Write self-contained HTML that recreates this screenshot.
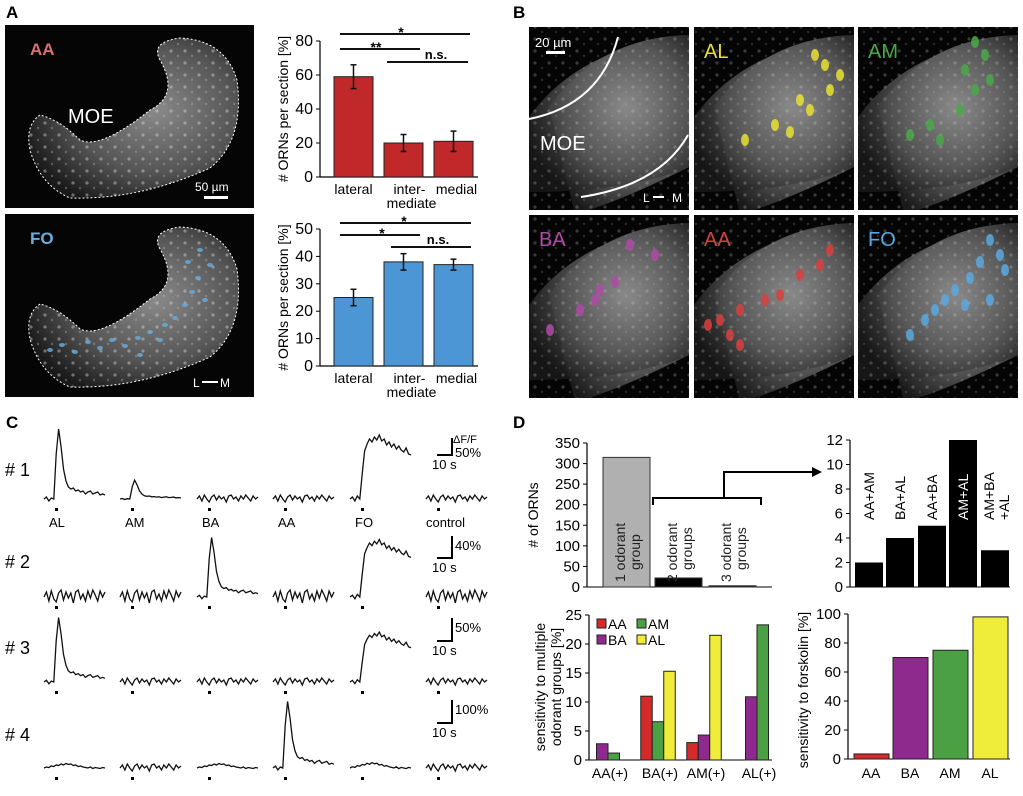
<!DOCTYPE html>
<html><head><meta charset="utf-8"><style>
body{margin:0;background:#fff;width:1023px;height:791px;overflow:hidden}
svg{font-family:"Liberation Sans",Arial,sans-serif}
</style></head><body>
<svg id="fig" width="1023" height="791" viewBox="0 0 1023 791" xmlns="http://www.w3.org/2000/svg">
<defs>
<radialGradient id="tis" cx="0.6" cy="0.45" r="0.65"><stop offset="0" stop-color="#8a8a8a"/><stop offset="0.6" stop-color="#555"/><stop offset="1" stop-color="#1a1a1a"/></radialGradient>
<pattern id="spk" width="14" height="12" patternUnits="userSpaceOnUse"><rect width="14" height="12" fill="none"/><circle cx="3" cy="3" r="1.6" fill="#ddd" opacity="0.7"/><circle cx="10" cy="8" r="1.2" fill="#bbb" opacity="0.6"/></pattern>
</defs>
<g id="panelA">
<text x="6" y="18" font-size="17" font-weight="bold">A</text>
<rect x="5" y="25" width="249" height="183" fill="#050505"/>
<path d="M40,115 Q25,125 30,150 Q40,185 70,198 Q140,200 210,168 Q245,140 237,80 Q225,40 180,38 Q150,42 160,60 Q180,95 150,110 Q100,150 80,140 Q60,120 40,115Z" fill="url(#tis)" stroke="#fff" stroke-dasharray="2,2"/>
<path d="M40,115 Q25,125 30,150 Q40,185 70,198 Q140,200 210,168 Q245,140 237,80 Q225,40 180,38 Q150,42 160,60 Q180,95 150,110 Q100,150 80,140 Q60,120 40,115Z" fill="url(#spk)" opacity="0.6"/>
<text x="30" y="55" font-size="17" fill="#d87070" font-weight="bold">AA</text>
<text x="68" y="123" font-size="20" fill="#fff">MOE</text>
<text x="195" y="191" font-size="12" fill="#fff">50 µm</text>
<rect x="204" y="196" width="24" height="3" fill="#fff"/>
<rect x="5" y="214" width="249" height="183" fill="#050505"/>
<path d="M40,304 Q25,314 30,339 Q40,374 70,387 Q140,389 210,357 Q245,329 237,269 Q225,229 180,227 Q150,231 160,249 Q180,284 150,299 Q100,339 80,329 Q60,309 40,304Z" fill="url(#tis)" stroke="#fff" stroke-dasharray="2,2"/>
<path d="M40,304 Q25,314 30,339 Q40,374 70,387 Q140,389 210,357 Q245,329 237,269 Q225,229 180,227 Q150,231 160,249 Q180,284 150,299 Q100,339 80,329 Q60,309 40,304Z" fill="url(#spk)" opacity="0.6"/>
<g id="foDots" fill="#6aaee0" opacity="0.8"></g>
<text x="30" y="244" font-size="17" fill="#6aaee0" font-weight="bold">FO</text>
<text x="193" y="387" font-size="12" fill="#fff">L</text>
<rect x="202" y="381" width="16" height="2" fill="#fff"/>
<text x="220" y="387" font-size="12" fill="#fff">M</text>
</g>
<g id="chartA"></g>
<g id="panelB">
<text x="513" y="18" font-size="17" font-weight="bold">B</text>
</g>
<g id="panelC">
<text x="6" y="428" font-size="17" font-weight="bold">C</text>
</g>
<g id="panelD">
<text x="513" y="428" font-size="17" font-weight="bold">D</text>
</g>
</svg>
<script>
const NS='http://www.w3.org/2000/svg';
function mk(tag,a,p){const e=document.createElementNS(NS,tag);for(const k in a)e.setAttribute(k,a[k]);p.appendChild(e);return e;}
function txt(s,a,p){const e=mk('text',a,p);e.textContent=s;return e;}

// ---- Panel A bar data ----
const aCats=['lateral','inter-','medial'];
const aaVals=[59,20,21];
const aaErr=[7,5,6];
const foVals=[25,38,37];
const foErr=[3,3,2];
const aaTicks=[0,20,40,60,80];
const foTicks=[0,10,20,30,40,50];

// ---- Panel D data ----
const dGroups=['1 odorant|group','2 odorant|groups','3 odorant|groups'];
const dCounts=[315,22,3];
const dTicks=[0,50,100,150,200,250,300,350];
const pairCats=['AA+AM','BA+AL','AA+BA','AM+AL','AM+BA|+AL'];
const pairVals=[2,4,5,12,3];
const pairTicks=[0,2,4,6,8,10,12];
const multiCats=['AA(+)','BA(+)','AM(+)','AL(+)'];
const multiAA=[null,11,3,null];
const multiBA=[2.8,null,4.3,10.9];
const multiAM=[1.2,6.6,null,23.3];
const multiAL=[null,15.3,21.5,null];
const multiTicks=[0,5,10,15,20,25];
const forsCats=['AA','BA','AM','AL'];
const forsVals=[3.5,70,75,98];
const forsTicks=[0,20,40,60,80,100];

// ---- Panel C trace data ----
const noiseA=[0,3,-2,4,0,-3,2,4,-1,3,0,2,-3,3,4,0,2,-2,3,0,4,1,-2,3,0,2];
const noiseB=[0,5,-4,6,-2,-5,4,7,-3,5,-1,4,-6,5,7,-2,3,-4,6,-1,7,2,-4,6,0,5];
const peakShape=[0,2,-2,1,0,45,70,52,30,18,12,10,11,8,9,7,8,5,7,8,5,6,7,4,5,4];
const plateShape=[0,2,-2,3,0,25,48,55,60,57,62,59,64,58,60,54,57,52,55,50,53,49,47,51,45,44];
const humpShape=[0,2,1,4,3,6,5,8,6,9,7,8,5,6,3,4,2,1,0,2,-1,1,0,-1,1,0];
const rowShapes=[
 ['peak','peakS','noiseA','noiseA','plate','noiseA'],
 ['noiseB','noiseB','peak','noiseB','plate','noiseB'],
 ['peak','noiseA','noiseA','noiseA','plate','noiseA'],
 ['hump','noiseA','hump','peak','hump','noiseA']];
const rowGains=[[1,0.27,1,1,1,1],[1,1,0.85,1,0.9,1],[0.92,1,1,1,0.78,1],[0.5,1,0.5,0.95,0.6,1]];
const stimLabels=['AL','AM','BA','AA','FO','control'];
const rowLabels=['# 1','# 2','# 3','# 4'];
const scaleLabels=['50%','40%','50%','100%'];

function linY(v0,v1,p0,p1){return v=>p0+(v-v0)*(p1-p0)/(v1-v0);}

function axisY(g,x,ticks,y,fs,name){
  const a=mk('line',{x1:x,x2:x,y1:y(ticks[0]),y2:y(ticks[ticks.length-1]),stroke:'#000','stroke-width':1.2},g);
  
  
  ticks.forEach(t=>{mk('line',{x1:x-4,x2:x,y1:y(t),y2:y(t),stroke:'#000'},g);
    const tl=txt(String(t),{x:x-7,y:y(t)+5,'font-size':fs,'text-anchor':'end'},g);
    
    });
}

// ---------- Chart A ----------
(function(){
 const g=document.getElementById('chartA');
 const centers=[353.5,403.5,453.5], bw=39;
 function chart(vals,errs,ticks,y0,yTop,color,title,sig,pre){
  const y=linY(0,ticks[ticks.length-1],y0,yTop);
  axisY(g,320,ticks,y,16,pre+'-y-axis');
  mk('line',{x1:320,x2:478,y1:y0,y2:y0,stroke:'#000','stroke-width':1.2},g);
  vals.forEach((v,i)=>{
   const r=mk('rect',{x:centers[i]-bw/2,y:y(v),width:bw,height:y0-y(v),fill:color,stroke:'#222'},g);
   
   
   mk('line',{x1:centers[i],x2:centers[i],y1:y(v+errs[i]),y2:y(v-errs[i]),stroke:'#111','stroke-width':1.5},g);
   mk('line',{x1:centers[i]-3,x2:centers[i]+3,y1:y(v+errs[i]),y2:y(v+errs[i]),stroke:'#111','stroke-width':1.5},g);
   mk('line',{x1:centers[i]-3,x2:centers[i]+3,y1:y(v-errs[i]),y2:y(v-errs[i]),stroke:'#111','stroke-width':1.5},g);
  });
  const labY=y0+17;
  txt('lateral',{x:centers[0],y:labY,'font-size':14,'text-anchor':'middle'},g);
  txt('inter-',{x:centers[1]+6,y:labY,'font-size':14,'text-anchor':'middle'},g);
  txt('mediate',{x:centers[1]+8,y:labY+14,'font-size':14,'text-anchor':'middle'},g);
  txt('medial',{x:centers[2]+3,y:labY,'font-size':14,'text-anchor':'middle'},g);
  const t=txt(title,{x:0,y:0,'font-size':14,'text-anchor':'middle',transform:'translate(288,'+((y0+yTop)/2)+') rotate(-90)'},g);
  
  
  sig.forEach(s=>{mk('line',{x1:s[0],x2:s[1],y1:s[2],y2:s[2],stroke:'#111','stroke-width':2},g);
   txt(s[3],{x:s[4],y:s[2]-(s[3]=='n.s.'?3:-3),'font-size':s[3]=='n.s.'?13:14,'font-weight':'bold','text-anchor':'middle'},g);});
 }
 chart(aaVals,aaErr,aaTicks,177,41,'#c0282a','# ORNs per section [%]',[[340,470,34,'*',401],[340,420,49,'**',376],[387,468,62,'n.s.',436]],'aa');
 chart(foVals,foErr,foTicks,366,229,'#4d96d6','# ORNs per section [%]',[[340,471,223,'*',404],[340,420,235,'*',382],[391,471,247,'n.s.',438]],'fo');
 const fd=document.getElementById('foDots');
 [[50,350],[62,345],[75,352],[88,342],[100,348],[112,340],[125,346],[138,338],[150,332],[165,325],[175,318],[185,305],[192,292],[198,278],[188,262],[200,250],[210,265],[205,300],[160,340],[140,355]].forEach(p=>mk('ellipse',{cx:p[0],cy:p[1],rx:3,ry:2},fd));
})();

// ---------- Panel B ----------
(function(){
 const g=document.getElementById('panelB');
 const xs=[529,694,858], ys=[27,215], labels=[['',''],['AL','#e8e030'],['AM','#4aa84a'],['BA','#b04aa8'],['AA','#d84040'],['FO','#5aa8e0']];
 const dots=[[],[[815,55],[825,65],[840,75],[830,90],[800,100],[810,110],[775,125],[745,140],[790,132]],
  [[975,42],[985,55],[965,70],[990,80],[975,90],[960,110],[930,125],[910,135],[940,140]],
  [[630,245],[655,255],[615,282],[600,290],[595,300],[580,310],[550,330]],
  [[830,250],[820,265],[800,275],[780,295],[765,300],[740,310],[720,320],[730,335],[740,345],[708,325]],
  [[990,240],[1000,255],[980,262],[970,278],[955,290],[945,300],[965,305],[990,300],[1005,270],[935,310],[925,320],[910,335]]];
 let k=0;
 ys.forEach(y=>xs.forEach(x=>{
  const r=mk('rect',{x:x,y:y,width:160,height:183,fill:'#050505'},g);
  
  
  mk('path',{d:`M${x+45},${y+183} L${x+20},${y+80} Q${x+70},${y+10} ${x+160},${y+8} L${x+160},${y+140} Q${x+100},${y+170} ${x+60},${y+183}Z`,fill:'url(#tis)'},g);
  mk('path',{d:`M${x},${y+90} Q${x+50},${y+20} ${x+160},${y+8} L${x+160},${y+140} Q${x+100},${y+165} ${x},${y+165}Z`,fill:'url(#tis)',opacity:0.8},g);
  mk('rect',{x:x,y:y,width:160,height:183,fill:'url(#spk)',opacity:0.35},g);
  dots[k].forEach(p=>mk('ellipse',{cx:p[0],cy:p[1],rx:4,ry:6,fill:labels[k][1],opacity:0.85},g));
  if(labels[k][0]){const t=txt(labels[k][0],{x:x+10,y:y+31,'font-size':20,fill:labels[k][1]},g);
   
   }
  k++;
 }));
 txt('20 µm',{x:535,y:47,'font-size':13,fill:'#fff'},g);
 mk('rect',{x:546,y:51,width:19,height:3,fill:'#fff'},g);
 txt('MOE',{x:540,y:150,'font-size':20,fill:'#fff'},g);
 mk('path',{d:'M529,119 Q600,105 618,37',fill:'none',stroke:'#fff','stroke-width':2},g);
 mk('path',{d:'M581,197 Q660,185 688,135',fill:'none',stroke:'#fff','stroke-width':2},g);
 txt('L',{x:643,y:202,'font-size':12,fill:'#fff'},g);
 mk('rect',{x:653,y:196,width:11,height:2,fill:'#fff'},g);
 txt('M',{x:672,y:202,'font-size':12,fill:'#fff'},g);
})();

// ---------- Panel C ----------
(function(){
 const g=document.getElementById('panelC');
 const colX=[44,120,197,273,350,426], colW=61, base=[499,597,682,768];
 const shapes={noiseA,noiseB,peak:peakShape,peakS:peakShape,plate:plateShape,hump:humpShape};
 rowShapes.forEach((row,r)=>{
  const rl=txt(rowLabels[r],{x:5,y:[476,568,654,741][r],'font-size':18},g);
  
  
  row.forEach((s,c)=>{
   const arr=shapes[s], gain=rowGains[r][c];
   const pts=arr.map((v,i)=>(colX[c]+i*colW/(arr.length-1)).toFixed(1)+','+(base[r]-v*gain).toFixed(1)).join(' ');
   const pl=mk('polyline',{points:pts,fill:'none',stroke:'#111','stroke-width':1.3},g);
   
   
   mk('rect',{x:colX[c]+11,y:base[r]+9,width:3,height:3,fill:'#000'},g);
   if(r===0){const sl=txt(stimLabels[c],{x:colX[c]+(c==5?0:5),y:527,'font-size':13},g);
    
    }
  });
  const sy=[455,558,641,723][r], sh=[17,22,23,23][r];
  const sb=mk('path',{d:`M437,${sy} H452 V${sy-sh}`,fill:'none',stroke:'#000','stroke-width':2},g);
  
  
  txt(scaleLabels[r],{x:455,y:sy-sh+14+(r===0?5:0),'font-size':13},g);
  txt('10 s',{x:432,y:sy+14,'font-size':13},g);
 });
 txt('ΔF/F',{x:453,y:443,'font-size':11},g);
})();

// ---------- Panel D ----------
(function(){
 const g=document.getElementById('panelD');
 // top-left
 let y=linY(0,350,587,443);
 axisY(g,587,dTicks,y,15,'orn-count-y-axis');
 mk('line',{x1:587,x2:772,y1:587,y2:587,stroke:'#000'},g);
 const bx=[603,655,709];
 dCounts.forEach((v,i)=>{
  const r=mk('rect',{x:bx[i],y:y(v),width:47,height:587-y(v),fill:i==0?'#b0b0b0':'#000',stroke:'#333'},g);
  
  
  const L=dGroups[i].split('|');
  const t=mk('text',{'font-size':14,'text-anchor':'start',transform:`translate(${bx[i]+22},582) rotate(-90)`,fill:'#222'},g);
  L.forEach((s,j)=>{const ts=mk('tspan',{x:j?12:0,dy:j?15:0},t);ts.textContent=s;});
 });
 txt('# of ORNs',{x:0,y:0,'font-size':14,'text-anchor':'middle',transform:'translate(538,515) rotate(-90)'},g);
 mk('path',{d:'M653,505 V498 H761 V505 M724,498 V472 H812',fill:'none',stroke:'#000','stroke-width':2},g);
 mk('path',{d:'M812,467 L822,472 L812,477Z',fill:'#000'},g);
 // top-right
 y=linY(0,12,587,440);
 axisY(g,850,pairTicks,y,15,'pair-count-y-axis');
 mk('line',{x1:850,x2:1010,y1:587,y2:587,stroke:'#000'},g);
 const px=[855,886,918,949,981];
 pairVals.forEach((v,i)=>{
  const r=mk('rect',{x:px[i],y:y(v),width:28,height:587-y(v),fill:'#000'},g);
  
  
  const L=pairCats[i].split('|');
  const t=mk('text',{'font-size':14,transform:`translate(${px[i]+19-(L.length>1?6:0)},520) rotate(-90)`,fill:i==3?'#fff':'#000'},g);
  L.forEach((s,j)=>{const ts=mk('tspan',{x:j?0:0,dy:j?15:0},t);ts.textContent=s;});
 });
 // bottom-left
 y=linY(0,25,760,615);
 axisY(g,589,multiTicks,y,15,'multi-sensitivity-y-axis');
 mk('line',{x1:589,x2:772,y1:760,y2:760,stroke:'#000'},g);
 const series=[['AA',multiAA,'#d42a2a'],['BA',multiBA,'#8e2a8e'],['AM',multiAM,'#4aa043'],['AL',multiAL,'#f0ec3a']];
 const gc=[608,658,704,757], w=11.5;
 multiCats.forEach((c,i)=>{
  const present=series.filter(s=>s[1][i]!=null);
  const start=gc[i]-present.length*w/2;
  present.forEach((s,j)=>{
   const v=s[1][i];
   const r=mk('rect',{x:start+j*w,y:y(v),width:w,height:760-y(v),fill:s[2],stroke:'#222'},g);
   
   
  });
  txt(c,{x:gc[i]+2,y:778,'font-size':14,'text-anchor':'middle'},g);
 });
 const t1=mk('text',{'font-size':14,'text-anchor':'middle',transform:'translate(545,687) rotate(-90)'},g);
 let ts=mk('tspan',{x:0,dy:0},t1);ts.textContent='sensitivity to multiple';
 ts=mk('tspan',{x:0,dy:16},t1);ts.textContent='odorant groups [%]';
 [['AA',597,619,'#d42a2a'],['AM',637,619,'#4aa043'],['BA',597,635,'#8e2a8e'],['AL',637,635,'#f0ec3a']].forEach(l=>{
  const r=mk('rect',{x:l[1],y:l[2],width:9,height:9,fill:l[3],stroke:'#222'},g);
  
  
  txt(l[0],{x:l[1]+11,y:l[2]+10,'font-size':14},g);
 });
 // bottom-right
 y=linY(0,100,759,614);
 axisY(g,848,forsTicks,y,15,'forskolin-y-axis');
 mk('line',{x1:848,x2:1010,y1:759,y2:759,stroke:'#000'},g);
 const fx=[854,893,933,973];
 forsVals.forEach((v,i)=>{
  const r=mk('rect',{x:fx[i],y:y(v),width:35,height:759-y(v),fill:series[i][2],stroke:'#222'},g);
  
  
  txt(forsCats[i],{x:fx[i]+17,y:778,'font-size':14,'text-anchor':'middle'},g);
 });
 txt('sensitivity to forskolin [%]',{x:0,y:0,'font-size':14,'text-anchor':'middle',transform:'translate(808,690) rotate(-90)'},g);
})();
</script>
</body></html>
